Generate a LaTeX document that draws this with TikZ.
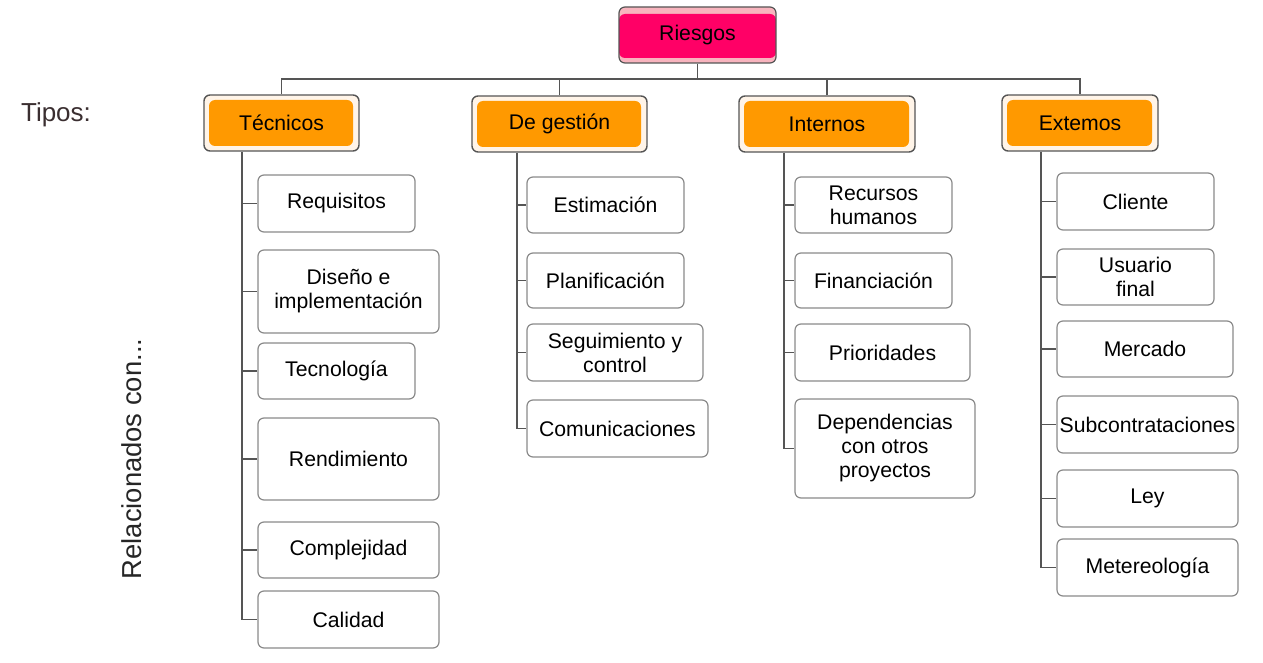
\documentclass[tikz,border=0pt]{standalone}
\usepackage{fontspec}
\setmainfont{Liberation Sans}
\definecolor{riskpink}{HTML}{FF0066}
\definecolor{riskband}{HTML}{F8B4BE}
\definecolor{typeorange}{HTML}{FF9900}
\definecolor{typeback}{HTML}{FFF4E8}
\definecolor{linegray}{HTML}{555555}
\definecolor{boxgray}{HTML}{8A8A8A}
\definecolor{labelgray}{HTML}{3A2E30}
\tikzset{
  boxfont/.style={font=\fontsize{10.6}{12}\selectfont},
  riskbox/.style={boxfont,draw=linegray,line width=.6pt,rounded corners=3pt,fill=riskband,
    path picture={\fill[riskpink]([yshift=-3.5pt]path picture bounding box.north west)
      rectangle([yshift=2.5pt]path picture bounding box.south east);}},
  typebox/.style={boxfont,draw=linegray,line width=.7pt,rounded corners=3pt,fill=typeback,
    path picture={\fill[typeorange]([shift={(2.5pt,-2.5pt)}]path picture bounding box.north west)
      rectangle([shift={(-3pt,2.5pt)}]path picture bounding box.south east);}},
  itembox/.style={boxfont,draw=boxgray,line width=.6pt,rounded corners=3pt,fill=white,
    align=center,inner sep=0pt},
  link/.style={draw=linegray,line width=.6pt}
}

\begin{document}
\begin{tikzpicture}[x=.5pt,y=-.5pt]
    \useasboundingbox (0,0) rectangle (1263,663);
    \node[riskbox,minimum width=78.5pt,minimum height=28pt] (ries) at (697.5,35) {Riesgos};
    \foreach \nm/\cx/\cy/\w/\txt in {
        tec/281.5/123/155/Técnicos,
        ges/559.5/124/175/De gestión,
        int/827/124/176/Internos,
        ext/1080/123/156/Extemos}
        \node[typebox,minimum width={\w*.5pt},minimum height=28pt] (\nm) at (\cx,\cy) {\txt};
    \foreach \nm/\xa/\ya/\xb/\yb/\txt in {
        req/258/175/415/232/Requisitos,
        dis/258/250/439/333/{Diseño e\\implementación},
        tcn/258/343/415/399/Tecnología,
        ren/258/418/439/500/Rendimiento,
        cpl/258/522/439/578/Complejidad,
        cal/258/591/439/648/Calidad,
        est/527/177/684/233/Estimación,
        pla/527/253/684/308/Planificación,
        seg/527/324/703/381/{Seguimiento y\\control},
        com/527/400/708/457/Comunicaciones,
        rec/795/177/952/233/{Recursos\\humanos},
        fin/795/253/952/308/Financiación,
        pri/795/324/970/381/Prioridades,
        dep/795/399/975/498/{Dependencias\\con otros\\proyectos},
        cli/1057/173/1214/230/Cliente,
        usu/1057/249/1214/305/{Usuario\\final},
        mer/1057/321/1233/377/Mercado,
        sub/1057/396/1238/453/Subcontrataciones,
        ley/1057/470/1238/527/Ley,
        met/1057/539/1238/596/Metereología}
        \node[itembox,minimum width={(\xb-\xa)*.5pt},minimum height={(\yb-\ya)*.5pt}]
            (\nm) at ({(\xa+\xb)/2},{(\ya+\yb)/2}) {\txt};
    \node[font=\fontsize{13}{15}\selectfont,text=labelgray] (tipos) at (56,115) {Tipos:};
    \node[font=\fontsize{13.7}{16}\selectfont,text=black!85,rotate=90] (rel) at (132,459) {Relacionados con...};
    \coordinate (bus) at (697.5,79);
    \draw[link] (ries.south) -- (bus);
    \draw[link] (tec.north) |- (bus) -| (ext.north);
    \foreach \t in {ges,int}
        \draw[link] (\t.north) -- (\t.north |- bus);
    \foreach \t/\dx/\last/\items in {
        tec/-39.5/cal/{req,dis,tcn,ren,cpl},
        ges/-42.5/com/{est,pla,seg},
        int/-43/dep/{rec,fin,pri},
        ext/-39/met/{cli,usu,mer,sub,ley}}{
        \draw[link] (\t.south) ++(\dx,0) coordinate (\t-sp) |- (\last.west);
        \foreach \c in \items
            \draw[link] (\t-sp |- \c.west) -- (\c.west);
    }
\end{tikzpicture}
\end{document}
